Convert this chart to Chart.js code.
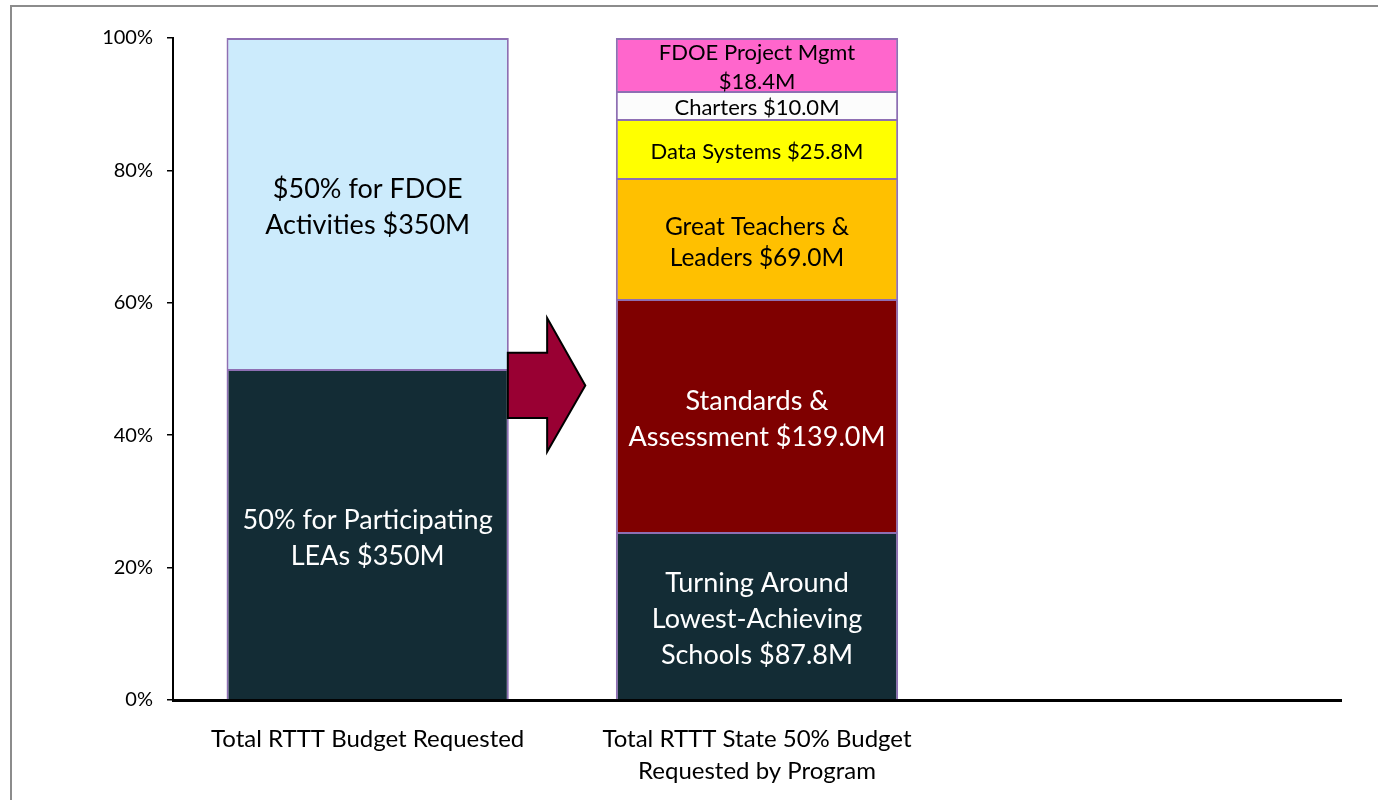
<!DOCTYPE html>
<html>
<head>
<meta charset="utf-8">
<script src="https://cdn.jsdelivr.net/npm/chart.js@4"></script>
<style>
  html, body { margin: 0; padding: 0; background: #ffffff; }
  #wrap { position: relative; width: 1378px; height: 800px; overflow: hidden; }
  #frame { position: absolute; left: 10px; top: 5px; width: 1400px; height: 820px;
           border-left: 2px solid #8c8c8c; border-top: 2px solid #8c8c8c; }
  canvas { position: absolute; left: 0; top: 0; }
</style>
</head>
<body>
<div id="wrap">
  <div id="frame"></div>
  <canvas id="c" width="1378" height="800"></canvas>
</div>
<script>
// ---------- data ----------
const categories = ['Total RTTT Budget Requested', ['Total RTTT State 50% Budget', 'Requested by Program'], ''];
const totalValues = [350, 350];                       // LEAs, FDOE activities ($M)
const totalLabels = [['50% for Participating', 'LEAs $350M'], ['$50% for FDOE', 'Activities $350M']];
const programValues = [88.9, 123.2, 64.0, 31.2, 14.8, 28.0]; // bar heights ($M of 350)
const programLabels = [
  ['Turning Around', 'Lowest-Achieving', 'Schools $87.8M'],
  ['Standards &', 'Assessment $139.0M'],
  ['Great Teachers &', 'Leaders $69.0M'],
  ['Data Systems $25.8M'],
  ['Charters $10.0M'],
  ['FDOE Project Mgmt', '$18.4M']
];
const yTickValues = [0, 20, 40, 60, 80, 100];

// ---------- styles ----------
const totalColors = ['#132C35', '#CCEBFC'];
const totalTextColors = ['#ffffff', '#000000'];
const totalFontSizes = [27, 27];
const totalLineHeights = [36, 36];
const programColors = ['#132C35', '#7F0000', '#FFC000', '#FFFF00', '#FCFCFC', '#FF66CC'];
const programTextColors = ['#ffffff', '#ffffff', '#000000', '#000000', '#000000', '#000000'];
const programFontSizes = [27, 27, 24.5, 22, 22, 22];
const programLineHeights = [36, 36, 31, 29, 29, 29];
const barBorder = '#8E6FB3';
const FONT = 'Lato, "Open Sans", "DejaVu Sans", sans-serif';
// arrow geometry: x in category units (0 = first category centre), y in percent
const arrowShape = { x0: 0.36, xHead: 0.461, xTip: 0.559, shaftTop: 52.45, shaftBottom: 42.6, headTop: 57.7, headBottom: 37.5, tipY: 47.5 };

// ---------- build datasets ----------
const sumTotal = totalValues.reduce((a, b) => a + b, 0);
const sumProgram = programValues.reduce((a, b) => a + b, 0);
const datasets = [];
totalValues.forEach((v, i) => datasets.push({
  label: totalLabels[i].join(' '),
  data: [v / sumTotal * 100, null, null],
  backgroundColor: totalColors[i],
  borderColor: barBorder, borderWidth: 2,
  _text: totalLabels[i], _textColor: totalTextColors[i], _fontSize: totalFontSizes[i], _lh: totalLineHeights[i]
}));
programValues.forEach((v, i) => datasets.push({
  label: programLabels[i].join(' '),
  data: [null, v / sumProgram * 100, null],
  backgroundColor: programColors[i],
  borderColor: barBorder, borderWidth: 2,
  _text: programLabels[i], _textColor: programTextColors[i], _fontSize: programFontSizes[i], _lh: programLineHeights[i]
}));

const segmentLabels = {
  id: 'segmentLabels',
  afterDatasetsDraw(chart) {
    const ctx = chart.ctx;
    // arrow
    const xs = chart.scales.x, ys = chart.scales.y;
    const c0 = xs.getPixelForValue(0), step = xs.getPixelForValue(1) - c0;
    const X = f => c0 + f * step, Y = v => ys.getPixelForValue(v);
    const a = arrowShape;
    ctx.save();
    ctx.beginPath();
    ctx.moveTo(X(a.x0), Y(a.shaftTop));
    ctx.lineTo(X(a.xHead), Y(a.shaftTop));
    ctx.lineTo(X(a.xHead), Y(a.headTop));
    ctx.lineTo(X(a.xTip), Y(a.tipY));
    ctx.lineTo(X(a.xHead), Y(a.headBottom));
    ctx.lineTo(X(a.xHead), Y(a.shaftBottom));
    ctx.lineTo(X(a.x0), Y(a.shaftBottom));
    ctx.closePath();
    ctx.fillStyle = '#990033';
    ctx.fill();
    ctx.lineWidth = 2;
    ctx.strokeStyle = '#000000';
    ctx.lineJoin = 'miter';
    ctx.stroke();
    ctx.restore();
    // labels
    chart.data.datasets.forEach((ds, di) => {
      const meta = chart.getDatasetMeta(di);
      meta.data.forEach((el, idx) => {
        if (ds.data[idx] == null) return;
        const cy = (el.y + el.base) / 2 + ds._fontSize * 0.15;
        const lines = ds._text;
        const lh = ds._lh;
        ctx.save();
        ctx.font = ds._fontSize + 'px ' + FONT;
        ctx.fillStyle = ds._textColor;
        ctx.textAlign = 'center';
        ctx.textBaseline = 'middle';
        lines.forEach((t, k) => {
          ctx.fillText(t, el.x, cy + (k - (lines.length - 1) / 2) * lh);
        });
        ctx.restore();
      });
    });
  }
};

new Chart(document.getElementById('c'), {
  type: 'bar',
  data: { labels: categories, datasets },
  options: {
    responsive: false,
    animation: false,
    layout: { padding: { top: 38, right: 37, bottom: 0, left: 0 } },
    plugins: { legend: { display: false }, tooltip: { enabled: false } },
    datasets: { bar: { categoryPercentage: 1, barPercentage: 0.725 } },
    scales: {
      x: {
        stacked: true,
        grid: { display: false, drawTicks: false },
        border: { display: true, color: '#000000', width: 3 },
        ticks: { color: '#000000', padding: 24, font: { family: FONT, size: 24, lineHeight: 1.3 }, maxRotation: 0, autoSkip: false },
        afterFit(s) { s.height = 100; }
      },
      y: {
        stacked: true,
        min: 0, max: 100,
        afterBuildTicks(s) { s.ticks = yTickValues.map(v => ({ value: v })); },
        grid: { display: true, drawOnChartArea: false, drawTicks: true, tickLength: 6, color: '#000000', lineWidth: 1.5 },
        border: { display: true, color: '#000000', width: 2 },
        ticks: { color: '#000000', padding: 14, font: { family: FONT, size: 20 }, callback: v => v + '%' },
        afterFit(s) { s.width = 173; }
      }
    }
  },
  plugins: [segmentLabels]
});
</script>
</body>
</html>
